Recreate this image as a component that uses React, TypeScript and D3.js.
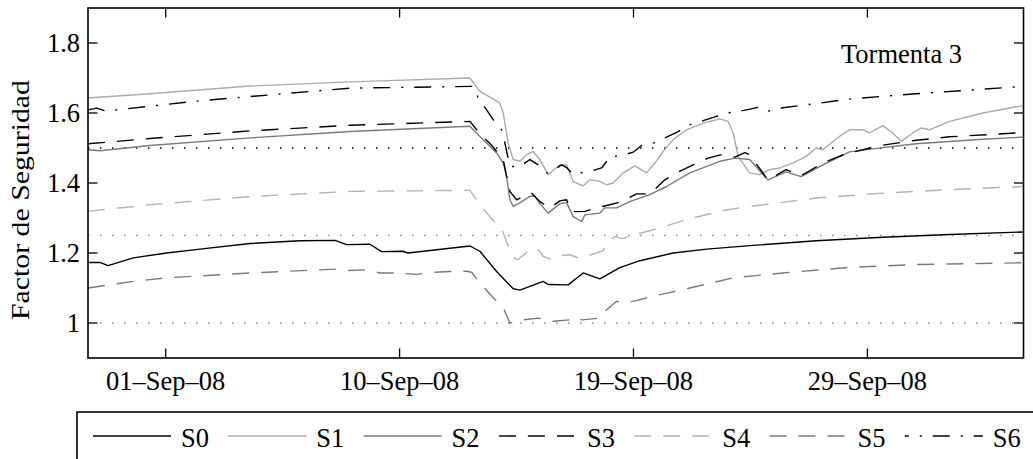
import React from 'react';
import * as d3 from 'd3';

// day offsets are days since 01-Sep-2008 00:00 (UTC)
const seriesNames = ['S0', 'S1', 'S2', 'S3', 'S4', 'S5', 'S6'];

const s0: [number, number][] = [
  [-2.556, 1.173], [-2.084, 1.173], [-1.77, 1.164], [-0.775, 1.186], [0.539, 1.2], [1.848, 1.211],
  [3.814, 1.227], [5.781, 1.235], [7.157, 1.236], [7.617, 1.224], [8.533, 1.225], [8.993, 1.204],
  [9.831, 1.205], [10.028, 1.2], [12.466, 1.22], [12.859, 1.205], [13.516, 1.147], [14.168, 1.098],
  [14.432, 1.094], [15.348, 1.119], [15.545, 1.11], [16.331, 1.109], [16.921, 1.143], [17.578, 1.126],
  [18.364, 1.158], [19.151, 1.178], [20.46, 1.2], [21.774, 1.211], [23.477, 1.221], [26.083, 1.235],
  [28.706, 1.245], [31.341, 1.253], [34.212, 1.26],
];

const s1: [number, number][] = [
  [-2.556, 1.643], [-0.118, 1.655], [3.814, 1.677], [7.747, 1.689], [12.466, 1.7], [12.859, 1.662],
  [13.645, 1.629], [13.775, 1.6], [13.972, 1.514], [14.168, 1.467], [14.432, 1.462], [14.695, 1.481],
  [14.955, 1.49], [15.218, 1.467], [15.545, 1.424], [16.005, 1.452], [16.268, 1.452], [16.527, 1.404],
  [16.921, 1.392], [17.184, 1.409], [17.578, 1.405], [17.841, 1.395], [18.101, 1.4], [18.494, 1.429],
  [18.954, 1.449], [19.414, 1.429], [19.74, 1.457], [20.067, 1.49], [20.46, 1.524], [20.987, 1.552],
  [21.64, 1.571], [22.296, 1.583], [22.623, 1.576], [22.82, 1.543], [23.017, 1.476], [23.465, 1.429],
  [23.858, 1.424], [24.251, 1.438], [24.644, 1.443], [25.167, 1.457], [25.69, 1.476], [26.083, 1.5],
  [26.347, 1.495], [27.003, 1.533], [27.397, 1.552], [27.92, 1.552], [28.183, 1.543], [28.706, 1.564],
  [29.099, 1.543], [29.426, 1.519], [29.886, 1.543], [30.212, 1.557], [30.543, 1.552], [31.329, 1.576],
  [32.639, 1.6], [34.212, 1.621],
];

const s2: [number, number][] = [
  [-2.556, 1.495], [-2.084, 1.492], [-0.118, 1.507], [3.814, 1.529], [7.747, 1.547], [12.466, 1.562],
  [12.859, 1.533], [13.516, 1.486], [13.775, 1.457], [13.909, 1.419], [14.038, 1.352], [14.168, 1.333],
  [14.432, 1.343], [14.825, 1.362], [15.022, 1.362], [15.218, 1.341], [15.545, 1.314], [16.005, 1.341],
  [16.268, 1.344], [16.527, 1.304], [16.858, 1.29], [16.988, 1.309], [17.578, 1.314], [17.774, 1.329],
  [18.234, 1.329], [18.757, 1.347], [19.544, 1.367], [20.2, 1.39], [21.117, 1.429], [22.296, 1.462],
  [22.887, 1.471], [23.465, 1.467], [24.184, 1.409], [24.904, 1.432], [25.494, 1.418], [26.347, 1.452],
  [27.397, 1.489], [28.706, 1.501], [30.016, 1.512], [32.639, 1.525], [34.212, 1.531],
];

const s3: [number, number][] = [
  [-2.556, 1.512], [-0.118, 1.527], [3.814, 1.549], [7.747, 1.565], [12.466, 1.576], [12.859, 1.541],
  [13.319, 1.508], [13.775, 1.467], [13.909, 1.419], [14.038, 1.376], [14.302, 1.352], [14.695, 1.367],
  [14.892, 1.371], [15.218, 1.347], [15.611, 1.329], [16.005, 1.349], [16.268, 1.352], [16.464, 1.318],
  [16.988, 1.319], [17.448, 1.329], [17.971, 1.338], [18.431, 1.347], [19.021, 1.369], [19.544, 1.369],
  [20.134, 1.409], [20.594, 1.429], [21.246, 1.452], [21.836, 1.471], [22.363, 1.481], [22.887, 1.474],
  [23.28, 1.487], [23.465, 1.481], [24.184, 1.409], [24.904, 1.438], [25.494, 1.421], [26.347, 1.457],
  [27.263, 1.484], [28.706, 1.508], [30.016, 1.522], [31.329, 1.532], [34.212, 1.544],
];

const s4: [number, number][] = [
  [-2.556, 1.319], [-0.118, 1.338], [3.814, 1.361], [7.747, 1.376], [12.466, 1.379], [12.859, 1.338],
  [13.319, 1.298], [13.712, 1.269], [13.909, 1.232], [14.168, 1.186], [14.353, 1.181], [14.758, 1.205],
  [15.089, 1.214], [15.218, 1.204], [15.348, 1.19], [15.611, 1.183], [15.741, 1.191], [16.398, 1.195],
  [16.724, 1.186], [16.858, 1.186], [17.448, 1.2], [17.707, 1.207], [17.841, 1.224], [18.167, 1.247],
  [18.431, 1.241], [19.084, 1.255], [19.611, 1.265], [20.2, 1.278], [21.117, 1.298], [21.903, 1.312],
  [22.493, 1.322], [23.072, 1.329], [26.083, 1.357], [28.706, 1.371], [31.329, 1.381], [34.212, 1.39],
];

const s5: [number, number][] = [
  [-2.556, 1.1], [-0.775, 1.119], [0.539, 1.129], [3.814, 1.143], [7.224, 1.154], [7.68, 1.15],
  [8.404, 1.152], [8.926, 1.143], [9.516, 1.143], [10.37, 1.139], [11.022, 1.145], [11.679, 1.147],
  [12.336, 1.148], [12.533, 1.145], [12.859, 1.114], [13.382, 1.072], [13.775, 1.044], [14.038, 1.0],
  [14.562, 1.009], [15.151, 1.014], [15.741, 1.005], [16.398, 1.009], [16.594, 1.017], [16.858, 1.009],
  [17.578, 1.014], [17.841, 1.038], [18.234, 1.062], [18.494, 1.057], [19.021, 1.064], [19.74, 1.078],
  [20.263, 1.086], [21.117, 1.1], [22.808, 1.129], [24.774, 1.143], [27.397, 1.159], [30.016, 1.167],
  [34.212, 1.172],
];

const s6: [number, number][] = [
  [-2.556, 1.609], [-2.214, 1.614], [-1.821, 1.605], [-1.427, 1.609], [1.848, 1.635], [7.747, 1.671],
  [12.595, 1.676], [12.792, 1.643], [13.122, 1.609], [13.382, 1.581], [13.712, 1.552], [13.842, 1.514],
  [14.038, 1.447], [14.432, 1.447], [14.825, 1.467], [15.151, 1.452], [15.482, 1.429], [15.611, 1.429],
  [16.072, 1.452], [16.268, 1.444], [16.527, 1.424], [16.791, 1.429], [17.184, 1.433], [17.644, 1.443],
  [17.904, 1.467], [17.971, 1.476], [18.364, 1.477], [18.887, 1.488], [19.217, 1.507], [19.673, 1.514],
  [20.2, 1.531], [20.657, 1.547], [21.117, 1.567], [21.64, 1.578], [22.1, 1.589], [22.56, 1.6],
  [23.083, 1.605], [23.858, 1.617], [24.184, 1.605], [24.774, 1.615], [26.083, 1.627], [27.397, 1.64],
  [30.016, 1.655], [32.639, 1.668], [34.212, 1.676],
];

const allSeries = [s0, s1, s2, s3, s4, s5, s6];

const yTicks = [1, 1.2, 1.4, 1.6, 1.8];
const yTickLabels = ['1', '1.2', '1.4', '1.6', '1.8'];
const xTickDays = [0.5, 9.7, 18.9, 28.1];
const xTickLabels = ['01–Sep–08', '10–Sep–08', '19–Sep–08', '29–Sep–08'];
const refLevels = [1, 1.25, 1.5];
const chartTitle = 'Tormenta 3';
const yTitle = 'Factor de Seguridad';

// styles
const seriesColor = ['#000', '#ababab', '#7a7a7a', '#000', '#b4b4b4', '#7a7a7a', '#000'];
const seriesDash = ['', '', '', '17,12', '17,12', '17,12', '17,11,2,11'];
const refColor = ['#8a8a8a', '#8a8a8a', '#000'];

const W = 1033;
const H = 459;
const FONT = '"Liberation Serif", "Times New Roman", serif';
const DAY = 86400000;
const t0 = Date.UTC(2008, 8, 1);
const toDate = (d: number) => new Date(t0 + d * DAY);

export default function App() {
  const left = 88, right = 1023.5, top = 8, bottom = 358;

  const x = d3.scaleUtc().domain([toDate(-2.556), toDate(34.24)]).range([left, right]);
  const y = d3.scaleLinear().domain([0.9, 1.9]).range([bottom, top]);

  const line = d3
    .line<[number, number]>()
    .x(d => x(toDate(d[0])))
    .y(d => y(d[1]));

  const tick = 9.5;
  const legendY = 436;

  return (
    <svg
      width={W}
      height={H}
      style={{ position: 'absolute', left: 0, top: 0, background: '#fff' }}
      fontFamily={FONT}
    >
      <rect x={0} y={0} width={W} height={H} fill="#fff" />

      {/* reference levels */}
      {refLevels.map((r, i) => (
        <line
          key={'r' + i}
          x1={left}
          x2={right}
          y1={y(r)}
          y2={y(r)}
          stroke={refColor[i]}
          strokeWidth={1.3}
          strokeDasharray="1.5,10.5"
        />
      ))}

      {/* series */}
      {allSeries.map((s, i) => (
        <path
          key={'s' + i}
          d={line(s) || ''}
          fill="none"
          stroke={seriesColor[i]}
          strokeWidth={1.4}
          strokeDasharray={seriesDash[i] || undefined}
          strokeLinejoin="round"
        />
      ))}

      {/* frame */}
      <rect x={left} y={top} width={right - left} height={bottom - top} fill="none" stroke="#000" strokeWidth={1.6} />

      {/* y ticks */}
      {yTicks.map((t, i) => (
        <g key={'y' + i}>
          <line x1={left} x2={left + tick} y1={y(t)} y2={y(t)} stroke="#000" strokeWidth={1.3} />
          <line x1={right} x2={right - tick} y1={y(t)} y2={y(t)} stroke="#000" strokeWidth={1.3} />
          <text x={80} y={y(t)} dy="0.33em" textAnchor="end" fontSize={26.5}>
            {yTickLabels[i]}
          </text>
        </g>
      ))}

      {/* x ticks */}
      {xTickDays.map((d, i) => {
        const px = x(toDate(d));
        return (
          <g key={'x' + i}>
            <line x1={px} x2={px} y1={bottom} y2={bottom - tick} stroke="#000" strokeWidth={1.3} />
            <line x1={px} x2={px} y1={top} y2={top + tick} stroke="#000" strokeWidth={1.3} />
            <text x={px} y={390} textAnchor="middle" fontSize={26.5}>
              {xTickLabels[i]}
            </text>
          </g>
        );
      })}

      <text x={841} y={63} fontSize={26.5}>
        {chartTitle}
      </text>

      <text
        transform={`translate(29,200) rotate(-90)`}
        textAnchor="middle"
        fontSize={25}
        textLength={240}
        lengthAdjust="spacingAndGlyphs"
      >
        {yTitle}
      </text>

      {/* legend */}
      <rect x={77} y={412} width={1000} height={80} fill="#fff" stroke="#000" strokeWidth={1.6} />
      {seriesNames.map((n, i) => {
        const lx = 93 + i * 135.3;
        return (
          <g key={'l' + i}>
            <line
              x1={lx}
              x2={lx + 78}
              y1={legendY}
              y2={legendY}
              stroke={seriesColor[i]}
              strokeWidth={1.4}
              strokeDasharray={seriesDash[i] || undefined}
              strokeDashoffset={i === 6 ? 13 : 0}
            />
            <text x={lx + 88} y={447} fontSize={26.5}>
              {n}
            </text>
          </g>
        );
      })}
    </svg>
  );
}
